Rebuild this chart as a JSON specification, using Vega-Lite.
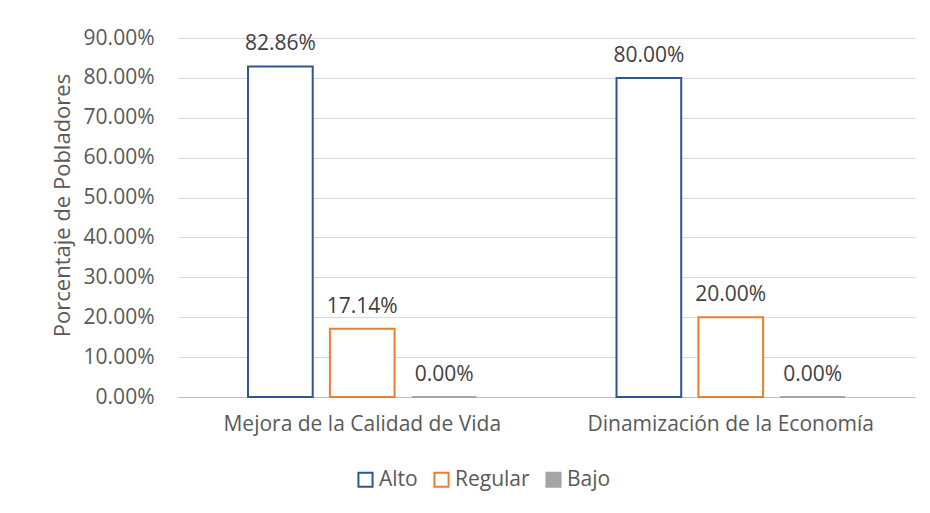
{
  "$schema": "https://vega.github.io/schema/vega-lite/v6.json",
  "width": 737,
  "height": 359,
  "autosize": {"type": "none"},
  "padding": {"left": 178, "top": 38, "right": 15, "bottom": 116},
  "background": "white",
  "config": {
    "font": "Open Sans",
    "view": {"stroke": null},
    "axis": {"labelFont": "Open Sans", "titleFont": "Open Sans", "labelColor": "#595959", "titleColor": "#595959", "labelFontSize": 21, "titleFontSize": 22, "titleFontWeight": "normal", "labelLimit": 0},
    "legend": {"orient": "none", "direction": "horizontal", "legendX": 177, "legendY": 431, "symbolType": "square", "symbolSize": 200, "symbolStrokeWidth": 2, "labelFontSize": 21, "labelColor": "#595959", "labelFont": "Open Sans", "columnPadding": 12, "labelOffset": 3, "title": null}
  },
  "data": {
    "values": [
      {"categoria": "Mejora de la Calidad de Vida", "nivel": "Alto", "valor": 0.8286},
      {"categoria": "Mejora de la Calidad de Vida", "nivel": "Regular", "valor": 0.1714},
      {"categoria": "Mejora de la Calidad de Vida", "nivel": "Bajo", "valor": 0.0},
      {"categoria": "Dinamización de la Economía", "nivel": "Alto", "valor": 0.8},
      {"categoria": "Dinamización de la Economía", "nivel": "Regular", "valor": 0.2},
      {"categoria": "Dinamización de la Economía", "nivel": "Bajo", "valor": 0.0}
    ]
  },
  "encoding": {
    "x": {
      "field": "categoria", "type": "nominal", "sort": null,
      "scale": {"paddingInner": 0.38, "paddingOuter": 0.19},
      "axis": {"title": null, "labelAngle": 0, "ticks": false, "labelPadding": 16, "domainColor": "#bfbfbf", "domainWidth": 1, "grid": false}
    },
    "xOffset": {"field": "nivel", "type": "nominal", "sort": ["Alto", "Regular", "Bajo"], "scale": {"domain": ["Alto", "Regular", "Bajo"], "paddingInner": 0.21, "paddingOuter": 0}},
    "y": {
      "field": "valor", "type": "quantitative",
      "scale": {"domain": [0, 0.9], "nice": false},
      "axis": {"title": "Porcentaje de Pobladores", "format": ".2%", "values": [0, 0.1, 0.2, 0.3, 0.4, 0.5, 0.6, 0.7, 0.8, 0.9], "domain": false, "ticks": false, "labelPadding": 24, "gridColor": "#d9d9d9", "gridWidth": 1, "titlePadding": 9, "titleY": 167}
    }
  },
  "layer": [
    {
      "mark": {"type": "bar", "strokeWidth": 2},
      "encoding": {
        "fill": {"field": "nivel", "type": "nominal", "scale": {"domain": ["Alto", "Regular", "Bajo"], "range": ["#ffffff", "#ffffff", "#a5a5a5"]}},
        "stroke": {"field": "nivel", "type": "nominal", "scale": {"domain": ["Alto", "Regular", "Bajo"], "range": ["#2f5597", "#ed7d31", "#a5a5a5"]}}
      }
    },
    {
      "mark": {"type": "text", "baseline": "bottom", "dy": -12, "fontSize": 21, "color": "#404040", "font": "Open Sans"},
      "encoding": {
        "text": {"field": "valor", "type": "quantitative", "format": ".2%"}
      }
    }
  ]
}
